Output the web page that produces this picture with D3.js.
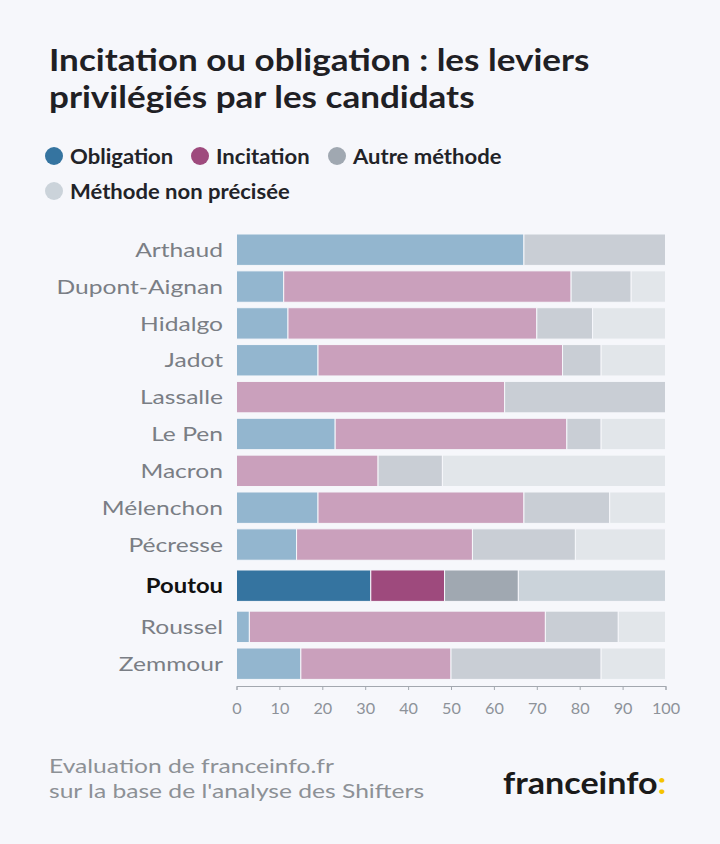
<!DOCTYPE html>
<html><head><meta charset="utf-8">
<script src="https://cdn.jsdelivr.net/npm/d3@7"></script>
<style>
html,body{margin:0;padding:0;background:#f6f7fb;}
svg{display:block;font-family:Lato,"Open Sans",sans-serif;}
</style></head>
<body><svg id="chart" width="720" height="844"></svg>
<script>
const candidates = ["Arthaud","Dupont-Aignan","Hidalgo","Jadot","Lassalle","Le Pen","Macron","Mélenchon","Pécresse","Poutou","Roussel","Zemmour"];
const obligation = [67, 11, 12, 19, 0, 23, 0, 19, 14, 31.3, 3, 15];
const incitation = [0, 67, 58, 57, 62.5, 54, 33, 48, 41, 17.2, 69, 35];
const autre = [33, 14, 13, 9, 37.5, 8, 15, 20, 24, 17.2, 17, 35];
const nonPrecisee = [0, 8, 17, 15, 0, 15, 52, 13, 21, 34.3, 11, 15];
const seriesNames = ["Obligation","Incitation","Autre méthode","Méthode non précisée"];
const highlighted = "Poutou";
const xTicks = [0,10,20,30,40,50,60,70,80,90,100];

const colorsStrong = ["#3574a0","#9e4a7d","#a0a8b1","#cbd3da"];
const colorsFaded = ["#93b6cf","#caa0bc","#c9ced5","#e2e6ea"];

const svg = d3.select("#chart");
svg.append("rect").attr("width",720).attr("height",844).attr("fill","#f6f7fb");

// widen glyphs to match the wide geometric face of the original
function stretch(sel, f){
  sel.each(function(){
    const w = this.getComputedTextLength();
    d3.select(this).attr("textLength", w*f).attr("lengthAdjust","spacingAndGlyphs");
  });
}

// Title
const titleLines = ["Incitation ou obligation : les leviers","privilégiés par les candidats"];
svg.append("g").selectAll("text").data(titleLines).join("text")
  .attr("x",49).attr("y",(d,i)=>71+i*37)
  .attr("font-weight",700).attr("font-size",31).attr("fill","#1f2024")
  .text(d=>d).call(stretch,1.13);

// Legend
const legendPos = [[54,156],[200,156],[337,156],[54,191]];
seriesNames.forEach((n,i)=>{
  const g = svg.append("g").attr("transform",`translate(${legendPos[i][0]},${legendPos[i][1]})`);
  g.append("circle").attr("r",9).attr("fill",colorsStrong[i]);
  g.append("text").attr("x",16).attr("y",7.5).attr("font-size",21).attr("font-weight",700).attr("fill","#222328").text(n).call(stretch,1.05);
});

// Scales
const x = d3.scaleLinear().domain([0,100]).range([236.5,665.5]);
const step = 36.4;
const y = d3.scaleBand().domain(candidates).range([234, 234+step*candidates.length]).paddingInner(0.148).paddingOuter(0).align(0);
const hIdx = candidates.indexOf(highlighted);
const yPos = (c)=>{
  const i = candidates.indexOf(c);
  let off = 0;
  if (i===hIdx) off = 4.3; else if (i>hIdx) off = 8.6;
  return y(c)+off;
};

const rows = candidates.map((c,i)=>({c, vals:[obligation[i],incitation[i],autre[i],nonPrecisee[i]]}));
const stack = d3.stack().keys([0,1,2,3]).value((d,k)=>d.vals[k]);
const stacked = stack(rows);

stacked.forEach((layer,k)=>{
  svg.append("g").selectAll("rect").data(layer.filter(d=>d[1]-d[0]>0)).join("rect")
    .attr("x",d=>x(d[0]))
    .attr("y",d=>yPos(d.data.c))
    .attr("width",d=>Math.max(0,x(d[1])-x(d[0])))
    .attr("height",y.bandwidth())
    .attr("fill",d=>d.data.c===highlighted?colorsStrong[k]:colorsFaded[k])
    .attr("stroke","#f6f7fb").attr("stroke-width",1);
});

// Category labels
svg.append("g").selectAll("text").data(candidates).join("text")
  .attr("x",223).attr("y",d=>yPos(d)+y.bandwidth()/2)
  .attr("dy","0.36em").attr("text-anchor","end")
  .attr("font-size",20)
  .attr("font-weight",d=>d===highlighted?700:400)
  .attr("fill",d=>d===highlighted?"#111":"#7a7e85")
  .text(d=>d)
  .each(function(d){ d3.select(this).call(stretch, d===highlighted?1.19:1.23); });

// Axis
const axis = svg.append("g").attr("transform","translate(0,686)")
  .call(d3.axisBottom(x).tickValues(xTicks).tickSize(4).tickSizeOuter(4).tickPadding(13));
axis.select(".domain").attr("stroke","#a3a8af");
axis.selectAll(".tick line").attr("stroke","#a3a8af");
axis.selectAll(".tick text").attr("fill","#8d9299").attr("font-size",15).attr("font-family","Lato,sans-serif").call(stretch,1.08);

// Footer
const footLines = ["Evaluation de franceinfo.fr","sur la base de l'analyse des Shifters"];
svg.append("g").selectAll("text").data(footLines).join("text")
  .attr("x",49).attr("y",(d,i)=>773+i*25)
  .attr("font-size",20).attr("fill","#8d9196")
  .text(d=>d).call(stretch,1.23);

const logo = svg.append("text").attr("x",503).attr("y",794).attr("font-size",31).attr("font-weight",700).attr("fill","#1a1a1a");
logo.append("tspan").text("franceinfo");
logo.append("tspan").attr("fill","#f5c400").text(":");
logo.call(stretch,1.1);
</script>
</body></html>
